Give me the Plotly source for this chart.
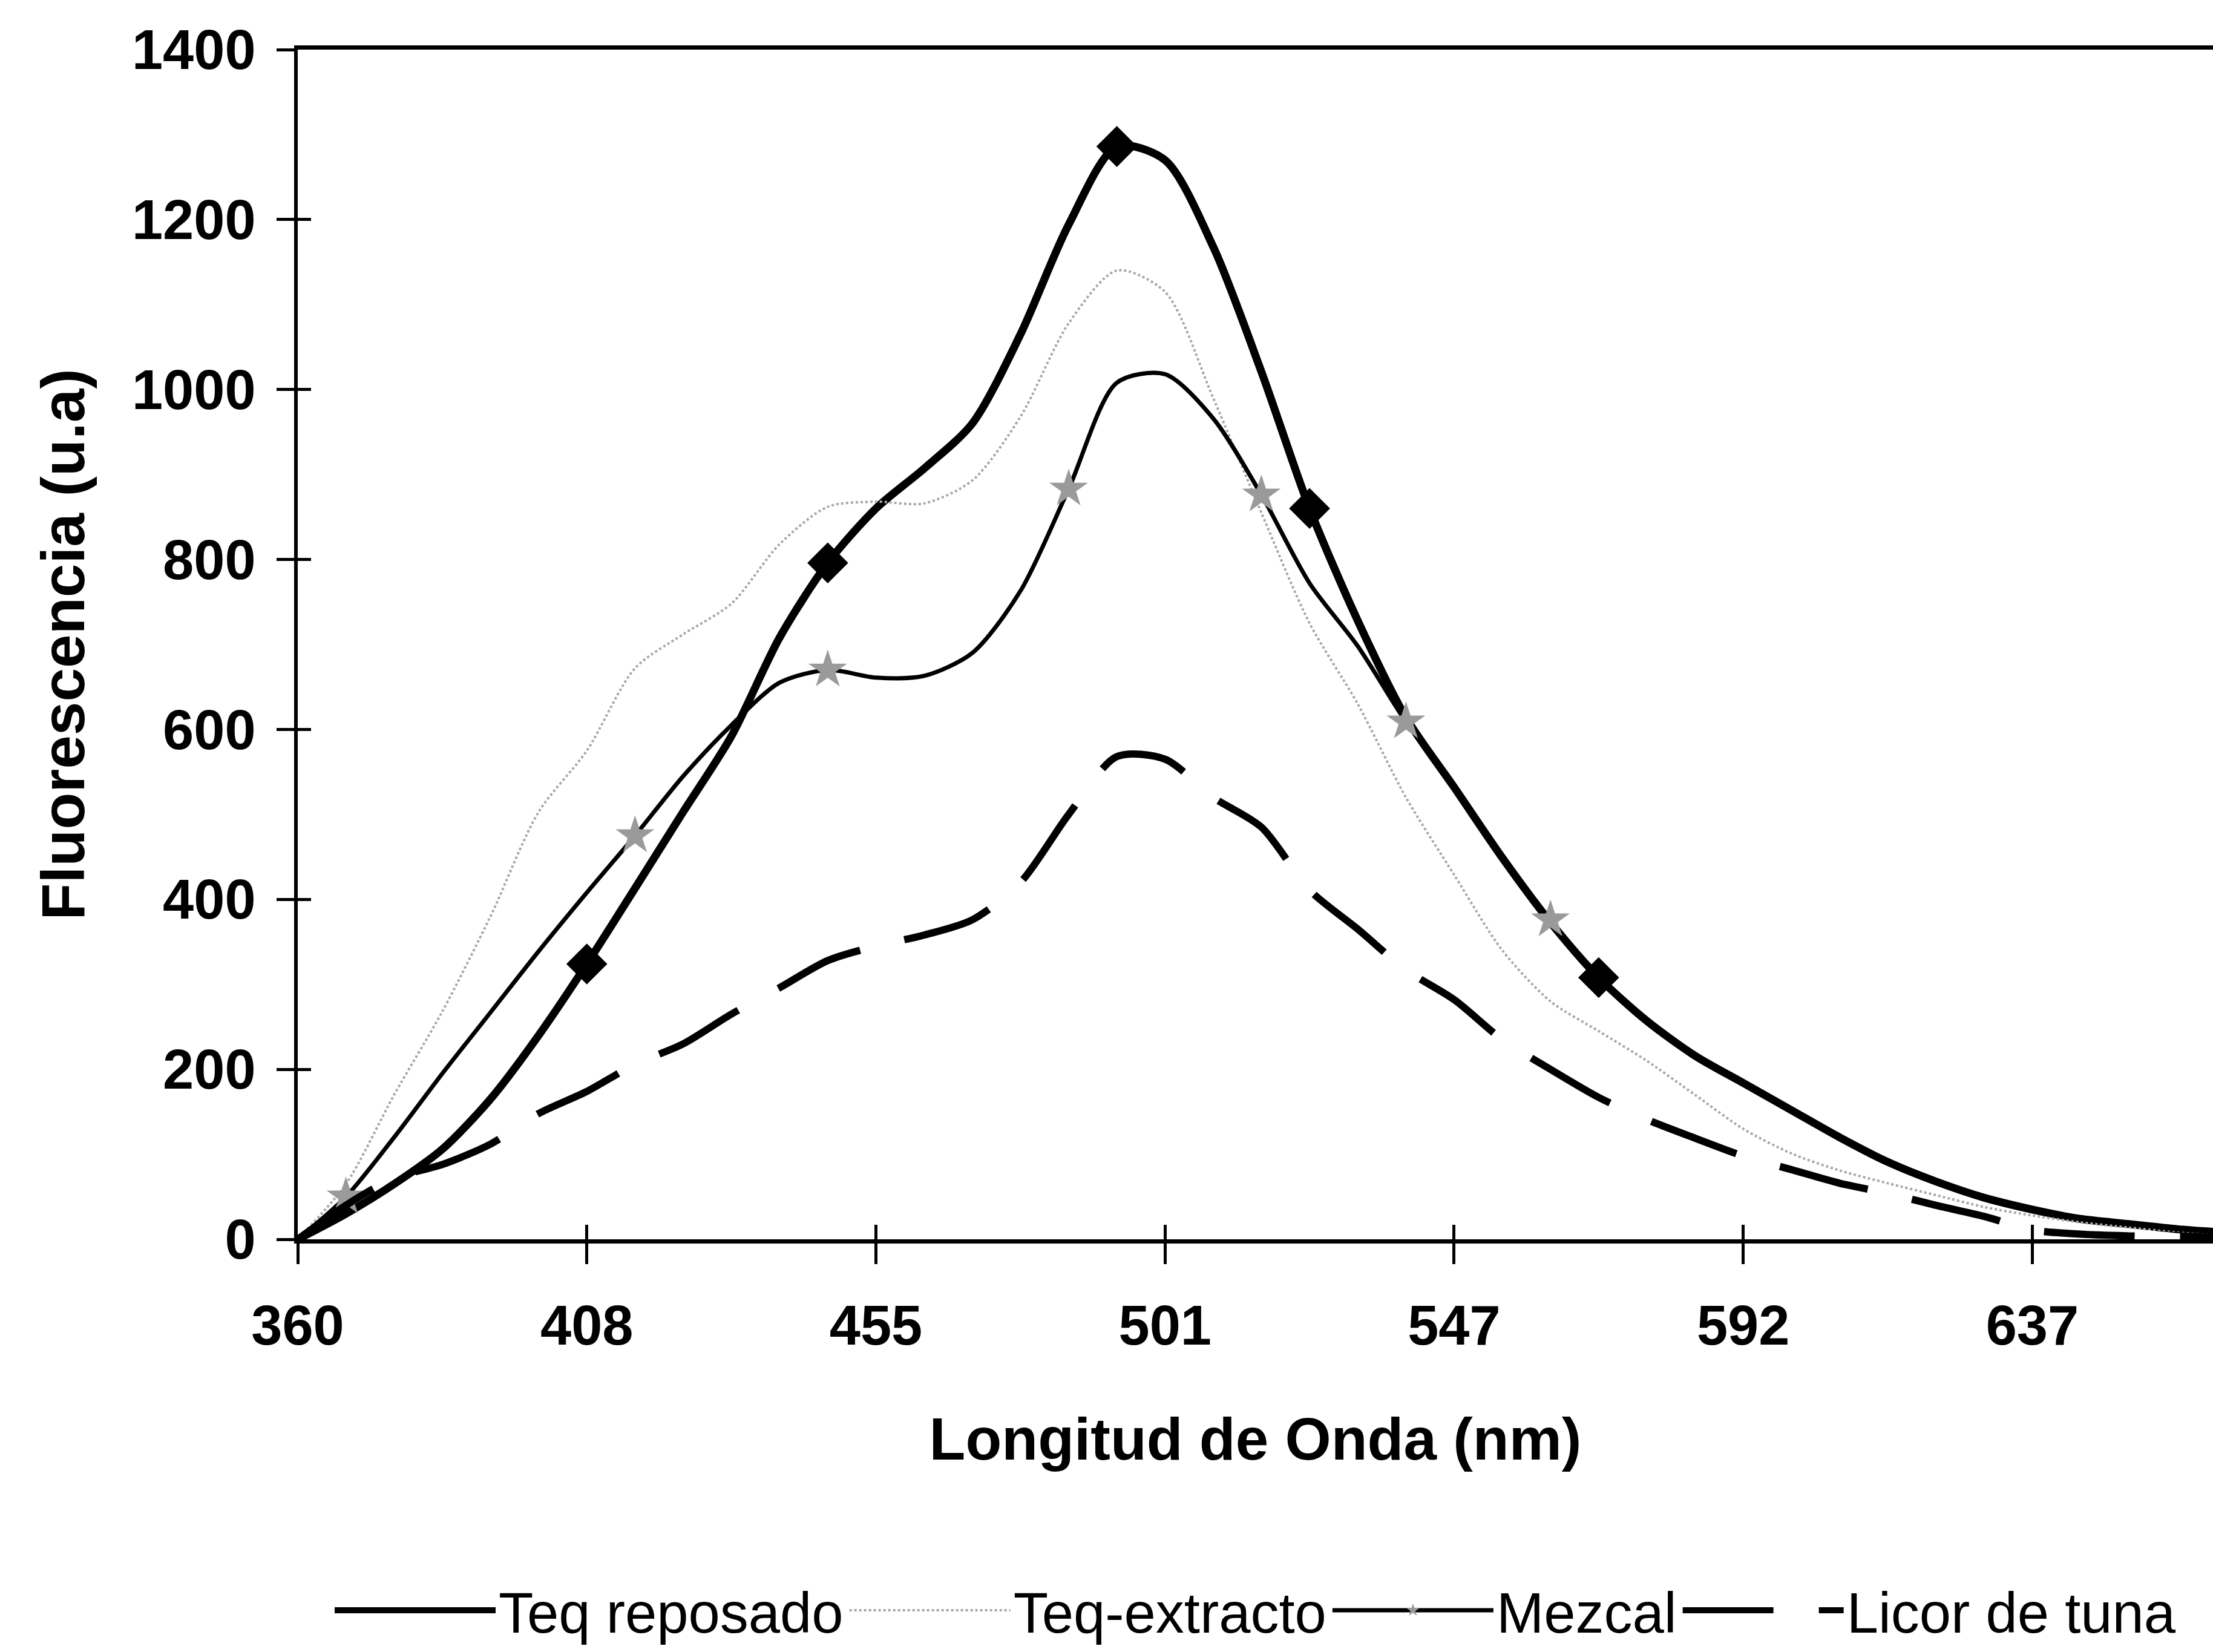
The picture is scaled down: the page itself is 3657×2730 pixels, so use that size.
import plotly.graph_objects as go

# ---- data ----
wavelengths = ["360", "368", "376", "384", "392", "400", "408", "416", "424", "431",
               "439", "447", "455", "463", "470", "478", "486", "493", "501", "509",
               "516", "524", "532", "539", "547", "555", "562", "570", "577", "585",
               "592", "600", "607", "615", "622", "630", "637", "645", "652", "660", "667"]
tick_labels = ["360", "408", "455", "501", "547", "592", "637"]

teq_reposado = [0, 30, 65, 106, 165, 240, 324, 413, 503, 592,
                708, 796, 860, 907, 960, 1065, 1194, 1286, 1270, 1168,
                1021, 860, 728, 614, 532, 449, 373, 308, 257, 216,
                184, 152, 120, 91, 68, 49, 35, 24, 18, 12, 8]
teq_extracto = [0, 65, 170, 268, 380, 503, 575, 672, 712, 748,
                818, 862, 868, 866, 893, 968, 1078, 1140, 1115, 990,
                855, 725, 630, 520, 429, 340, 280, 245, 210, 170,
                130, 101, 81, 66, 52, 38, 28, 20, 14, 10, 7]
mezcal = [0, 50, 120, 195, 267, 339, 408, 475, 545, 605,
          655, 670, 661, 663, 690, 763, 883, 1008, 1018, 966,
          876, 772, 698, 609, 534, 452, 376, 310, 258, 217,
          185, 153, 121, 92, 69, 50, 36, 25, 18, 12, 8]
licor_tuna = [0, 40, 72, 88, 112, 148, 174, 206, 230, 265,
              296, 328, 345, 358, 376, 420, 500, 568, 565, 520,
              485, 411, 365, 317, 282, 235, 200, 167, 141, 119,
              98, 82, 66, 54, 40, 27, 11, 6, 4, 3, 2]

reposado_marker_idx = [6, 11, 17, 21, 27]
mezcal_marker_idx = [1, 7, 11, 16, 20, 23, 26]

FONT = "Liberation Sans"

fig = go.Figure()

fig.add_trace(go.Scatter(
    x=wavelengths, y=teq_reposado, name="Teq reposado", mode="lines",
    legendgroup="rep",
    line=dict(color="black", width=13, shape="spline", smoothing=0.8)))
fig.add_trace(go.Scatter(
    x=[wavelengths[i] for i in reposado_marker_idx],
    y=[teq_reposado[i] for i in reposado_marker_idx],
    mode="markers", showlegend=False, legendgroup="rep",
    marker=dict(symbol="diamond", size=52, color="black")))
fig.add_trace(go.Scatter(
    x=wavelengths, y=teq_extracto, name="Teq-extracto", mode="lines",
    line=dict(color="#a8a8a8", width=4, dash="dot", shape="spline", smoothing=0.8)))
fig.add_trace(go.Scatter(
    x=wavelengths, y=mezcal, name="Mezcal", mode="lines", showlegend=False,
    legendgroup="mez",
    line=dict(color="black", width=7, shape="spline", smoothing=0.8)))
fig.add_trace(go.Scatter(
    x=[wavelengths[i] for i in mezcal_marker_idx],
    y=[mezcal[i] for i in mezcal_marker_idx],
    mode="markers", showlegend=False, legendgroup="mez",
    marker=dict(symbol="star", size=48, color="#9a9a9a", line=dict(width=0))))
# legend entry for Mezcal (line with star symbol), no data of its own
fig.add_trace(go.Scatter(
    x=[None], y=[None], name="Mezcal", mode="lines+markers", legendgroup="mez",
    line=dict(color="black", width=7),
    marker=dict(symbol="star", size=48, color="#9a9a9a", line=dict(width=0))))
fig.add_trace(go.Scatter(
    x=wavelengths, y=licor_tuna, name="Licor de tuna", mode="lines",
    line=dict(color="black", width=12, dash="150px,75px", shape="spline", smoothing=0.8)))

# invisible helper trace so the overlay axes (inner half of cross ticks) are drawn
fig.add_trace(go.Scatter(x=[], y=[], xaxis="x2", yaxis="y2", mode="none",
                         showlegend=False, hoverinfo="skip"))

tick_font = dict(family=FONT, size=92, color="black", weight="bold")

fig.update_layout(
    width=3657, height=2730,
    margin=dict(l=492, r=0, t=82, b=679),
    paper_bgcolor="white", plot_bgcolor="white",
    showlegend=True,
    legend=dict(orientation="h", x=0.5, xanchor="center", y=-0.312, yanchor="middle",
                font=dict(family=FONT, size=94, color="black"),
                itemwidth=266, bgcolor="rgba(0,0,0,0)"),
    xaxis=dict(type="category", categoryorder="array", categoryarray=wavelengths,
               tickmode="array", tickvals=tick_labels, ticktext=tick_labels,
               range=[0, 39.75], showgrid=False, zeroline=False,
               showline=True, linecolor="black", linewidth=7, mirror=True,
               ticks="outside", ticklen=34, tickwidth=5, tickcolor="black",
               tickfont=tick_font, ticklabelstandoff=23,
               title=dict(text="Longitud de Onda (nm)", standoff=105,
                          font=dict(family=FONT, size=98, color="black", weight="bold"))),
    yaxis=dict(range=[0, 1400], dtick=200, tick0=0, showgrid=False, zeroline=False,
               showline=True, linecolor="black", linewidth=6,
               ticks="outside", ticklen=29, tickwidth=5, tickcolor="black",
               tickfont=tick_font, ticklabelstandoff=16,
               title=dict(text="Fluorescencia (u.a)", standoff=47,
                          font=dict(family=FONT, size=100, color="black", weight="bold"))),
    xaxis2=dict(overlaying="x", anchor="y2", side="bottom", range=[0, 39.75],
                tickmode="array", tickvals=[0, 6, 12, 18, 24, 30, 36],
                ticks="inside", ticklen=24, tickwidth=5, tickcolor="black",
                showticklabels=False, showline=False, showgrid=False, zeroline=False),
    yaxis2=dict(overlaying="y", anchor="x2", side="left", range=[0, 1400], dtick=200,
                ticks="inside", ticklen=22, tickwidth=5, tickcolor="black",
                showticklabels=False, showline=False, showgrid=False, zeroline=False),
)

fig.write_html("out.html")
